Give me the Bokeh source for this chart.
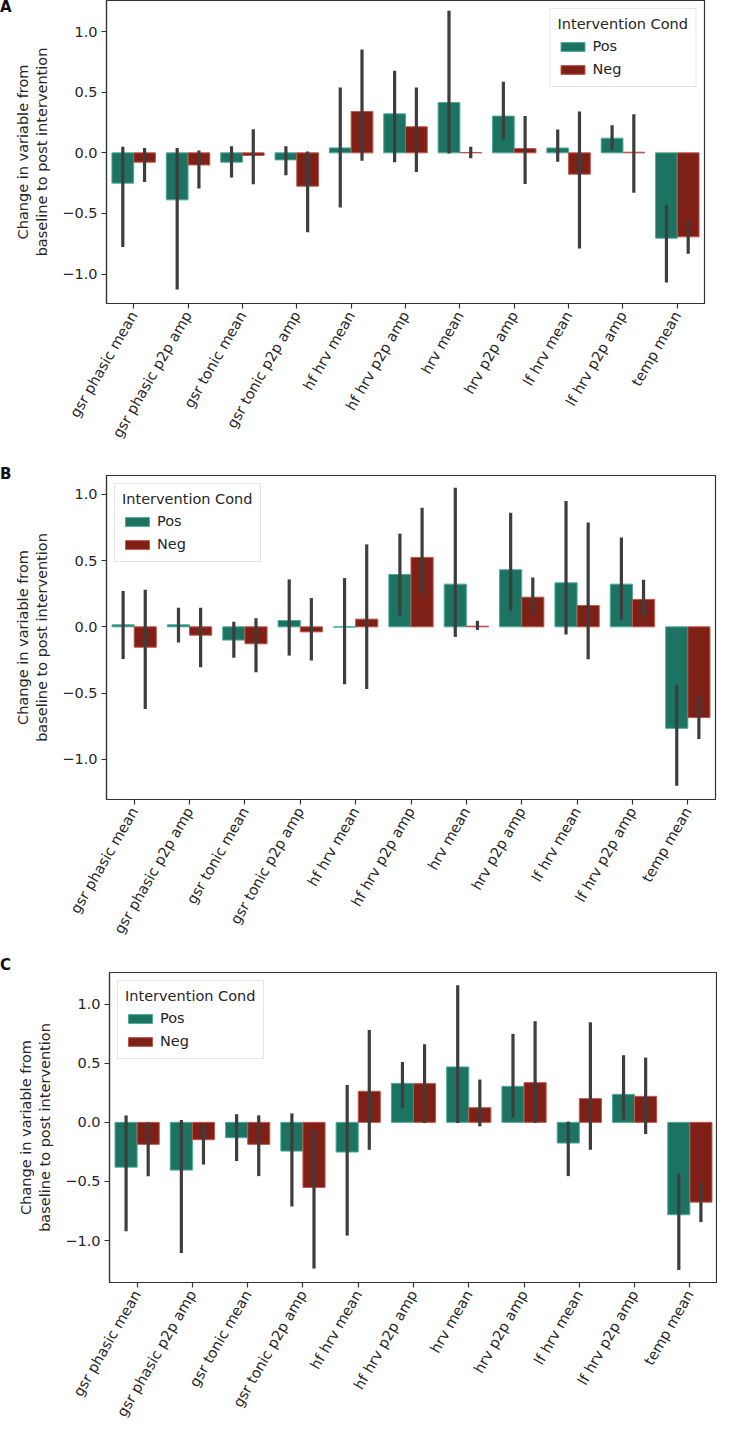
import math
from bokeh.plotting import figure
from bokeh.models import (ColumnDataSource, Range1d, FactorRange, Legend, LegendItem,
                          FixedTicker, CustomJSTickFormatter, Div)
from bokeh.transform import dodge
from bokeh.layouts import column, row
from bokeh.embed import file_html
from bokeh.resources import INLINE

# ---------------- data ----------------
categories = ["gsr phasic mean", "gsr phasic p2p amp", "gsr tonic mean", "gsr tonic p2p amp",
              "hf hrv mean", "hf hrv p2p amp", "hrv mean", "hrv p2p amp",
              "lf hrv mean", "lf hrv p2p amp", "temp mean"]
conditions = ["Pos", "Neg"]
y_ticks = [-1.0, -0.5, 0.0, 0.5, 1.0]
y_label = "Change in variable from\nbaseline to post intervention"
legend_title = "Intervention Cond"

# Panel A
a_pos = [-0.25, -0.388, -0.077, -0.058, 0.041, 0.322, 0.415, 0.303, 0.04, 0.121, -0.704]
a_pos_lo = [-0.776, -1.128, -0.204, -0.184, -0.451, -0.077, -0.005, 0.11, -0.074, 0.022, -1.07]
a_pos_hi = [0.05, 0.04, 0.055, 0.055, 0.539, 0.677, 1.172, 0.586, 0.193, 0.228, -0.429]
a_neg = [-0.077, -0.10, -0.022, -0.275, 0.341, 0.215, 0.003, 0.035, -0.176, 0.005, -0.693]
a_neg_lo = [-0.24, -0.294, -0.259, -0.655, -0.066, -0.157, -0.044, -0.256, -0.789, -0.33, -0.833]
a_neg_hi = [0.04, 0.02, 0.195, 0.011, 0.853, 0.539, 0.05, 0.303, 0.341, 0.319, -0.556]

# Panel B
b_pos = [0.015, 0.015, -0.10, 0.048, -0.002, 0.395, 0.322, 0.431, 0.332, 0.322, -0.766]
b_pos_lo = [-0.242, -0.118, -0.234, -0.217, -0.433, 0.086, -0.076, 0.123, -0.058, 0.053, -1.20]
b_pos_hi = [0.27, 0.144, 0.038, 0.358, 0.368, 0.703, 1.05, 0.861, 0.95, 0.675, -0.438]
b_neg = [-0.154, -0.063, -0.128, -0.038, 0.058, 0.524, 0.005, 0.224, 0.161, 0.207, -0.685]
b_neg_lo = [-0.62, -0.305, -0.343, -0.254, -0.469, 0.249, -0.023, 0.091, -0.244, 0.078, -0.846]
b_neg_hi = [0.28, 0.144, 0.065, 0.217, 0.622, 0.899, 0.045, 0.373, 0.788, 0.355, -0.521]

# Panel C
c_pos = [-0.379, -0.404, -0.13, -0.243, -0.251, 0.33, 0.469, 0.305, -0.175, 0.237, -0.782]
c_pos_lo = [-0.921, -1.105, -0.328, -0.712, -0.958, 0.121, -0.006, 0.037, -0.455, 0.023, -1.249]
c_pos_hi = [0.059, 0.02, 0.068, 0.076, 0.316, 0.511, 1.161, 0.749, 0.006, 0.568, -0.435]
c_neg = [-0.186, -0.147, -0.186, -0.551, 0.263, 0.328, 0.124, 0.336, 0.201, 0.22, -0.675]
c_neg_lo = [-0.455, -0.356, -0.455, -1.237, -0.232, -0.006, -0.034, -0.006, -0.232, -0.099, -0.844]
c_neg_hi = [0.0, -0.017, 0.059, -0.065, 0.782, 0.661, 0.362, 0.856, 0.847, 0.548, -0.508]

# ---------------- style ----------------
FONT = "DejaVu Sans"
TXT = "#262626"
POS_FILL, POS_EDGE = "#1d7362", "#4cab99"
NEG_FILL, NEG_EDGE = "#7e2016", "#c0564c"
ERR = "#3d3d3d"
W = 717
LETTER_W = 12


def make_panel(letter, pos, pos_lo, pos_hi, neg, neg_lo, neg_hi, yr, height,
               b_top, b_bottom, b_left, b_right, legend_loc, letter_top):
    p = figure(width=W - LETTER_W, height=height, x_range=FactorRange(*categories),
               y_range=Range1d(*yr), output_backend="svg", toolbar_location=None,
               min_border_top=b_top, min_border_bottom=b_bottom,
               min_border_left=b_left - LETTER_W, min_border_right=b_right)
    p.xgrid.visible = False
    p.ygrid.visible = False
    p.outline_line_color = "#333333"
    p.outline_line_width = 1.2
    p.background_fill_color = "white"
    p.border_fill_color = "white"

    src = ColumnDataSource(dict(cat=categories, pos=pos, pos_lo=pos_lo, pos_hi=pos_hi,
                                neg=neg, neg_lo=neg_lo, neg_hi=neg_hi))
    xp = dodge("cat", -0.2, range=p.x_range)
    xn = dodge("cat", 0.2, range=p.x_range)
    r_pos = p.vbar(x=xp, top="pos", bottom=0, width=0.4, source=src,
                   fill_color=POS_FILL, line_color=POS_EDGE, line_width=1)
    r_neg = p.vbar(x=xn, top="neg", bottom=0, width=0.4, source=src,
                   fill_color=NEG_FILL, line_color=NEG_EDGE, line_width=1)
    p.segment(x0=xp, x1=xp, y0="pos_lo", y1="pos_hi", source=src,
              line_color=ERR, line_width=3.2)
    p.segment(x0=xn, x1=xn, y0="neg_lo", y1="neg_hi", source=src,
              line_color=ERR, line_width=3.2)

    # axes
    for ax in (p.xaxis[0], p.yaxis[0]):
        ax.axis_line_color = "#333333"
        ax.axis_line_width = 1.2
        ax.major_tick_line_color = "#333333"
        ax.major_tick_line_width = 1.2
        ax.major_tick_out = 5
        ax.major_tick_in = 0
        ax.minor_tick_line_color = None
        ax.major_label_text_font = FONT
        ax.major_label_text_color = TXT
        ax.major_label_text_font_size = "14.5px"
        ax.major_label_standoff = 4
    p.xaxis.major_label_orientation = math.pi / 3
    p.yaxis.ticker = FixedTicker(ticks=y_ticks)
    p.yaxis.formatter = CustomJSTickFormatter(
        code="return tick.toFixed(1).replace('-', '\u2212');")
    p.yaxis.axis_label = y_label
    p.yaxis.axis_label_text_font = FONT
    p.yaxis.axis_label_text_font_style = "normal"
    p.yaxis.axis_label_text_font_size = "14.5px"
    p.yaxis.axis_label_text_color = TXT
    p.yaxis.axis_label_standoff = 9

    legend = Legend(items=[LegendItem(label=conditions[0], renderers=[r_pos]),
                           LegendItem(label=conditions[1], renderers=[r_neg])],
                    location=legend_loc, title=legend_title)
    legend.title_text_font = FONT
    legend.title_text_font_size = "14.5px"
    legend.title_text_font_style = "normal"
    legend.title_text_color = TXT
    legend.title_standoff = 4
    legend.label_text_font = FONT
    legend.label_text_font_size = "14.5px"
    legend.label_text_color = TXT
    legend.glyph_width = 30
    legend.glyph_height = 11
    legend.label_height = 20
    legend.spacing = 3
    legend.padding = 7
    legend.margin = 8
    legend.border_line_color = "#cccccc"
    legend.border_line_width = 1
    legend.background_fill_alpha = 0.85
    p.add_layout(legend)

    # panel letter in a narrow column to the left of the figure
    div = Div(text=letter, width=LETTER_W, height=height, margin=0,
              styles={"font-family": FONT, "font-weight": "bold", "font-size": "15px",
                      "line-height": "15px", "color": "#111111", "overflow": "visible",
                      "padding-top": f"{letter_top}px", "box-sizing": "border-box"})
    return row(div, p, spacing=0)


pa = make_panel("A", a_pos, a_pos_lo, a_pos_hi, a_neg, a_neg_lo, a_neg_hi,
                (-1.243, 1.257), 462, 0, 159, 102, 13, "top_right", 0)
pb = make_panel("B", b_pos, b_pos_lo, b_pos_hi, b_neg, b_neg_lo, b_neg_hi,
                (-1.303, 1.142), 493, 13, 156, 105, 2, "top_left", 5)
pc = make_panel("C", c_pos, c_pos_lo, c_pos_hi, c_neg, c_neg_lo, c_neg_hi,
                (-1.355, 1.268), 474, 17, 147, 109, 0, "top_left", 3)

layout = column(pa, pb, pc, spacing=0)
open("out.html", "w").write(file_html(layout, INLINE))
